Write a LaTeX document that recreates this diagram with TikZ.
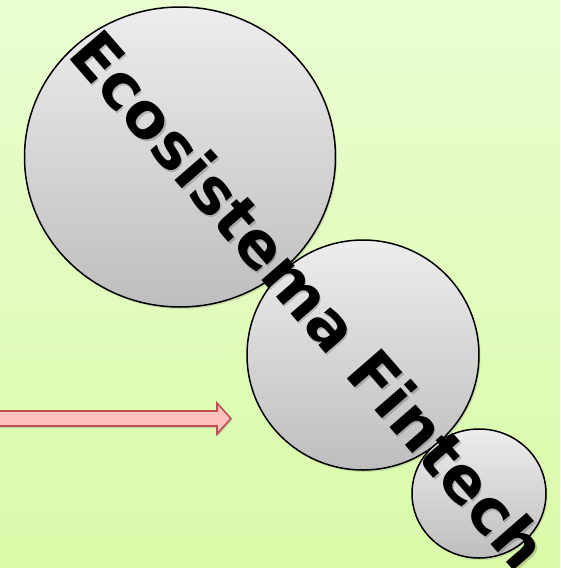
\documentclass[tikz,border=0pt]{standalone}
\usepackage{fontspec}
\setmainfont{DejaVu Sans}
\usetikzlibrary{shadows,shapes.geometric}
\definecolor{bgtop}{RGB}{234,253,210}
\definecolor{bgbot}{RGB}{217,251,168}
\definecolor{ctop}{RGB}{237,237,237}
\definecolor{cbot}{RGB}{190,190,190}
\definecolor{arrfill}{RGB}{255,192,192}
\definecolor{arrline}{RGB}{192,80,77}
\begin{document}
\begin{tikzpicture}[x=1pt,y=-1pt,
  bubble/.style={ellipse, inner sep=0pt, draw=black, line width=1.5pt,
    top color=ctop, bottom color=cbot,
    drop shadow={opacity=0.25, shadow xshift=1.5pt, shadow yshift=-2pt}},
  titletext/.style={anchor=base west, rotate=-49, inner sep=0pt,
    font=\bfseries\fontsize{63}{75}\selectfont},
  bigarrow/.style={fill=arrfill, draw=arrline, line width=1.6pt, line join=miter,
    drop shadow={opacity=0.3, shadow xshift=1pt, shadow yshift=-2pt}}]
\useasboundingbox (0,0) rectangle (560,568);
\clip (0,0) rectangle (560,568);
\shade[top color=bgtop, bottom color=bgbot] (0,0) rectangle (560,568);
% arrow
\draw[bigarrow] (-5,411) -- (217,411) -- (217,403) -- (231,418.5) -- (217,434) -- (217,426) -- (-5,426) -- cycle;
% bubbles
\node[bubble, minimum width=311pt, minimum height=300pt] (c1) at (180,157) {};
\node[bubble, minimum width=232pt, minimum height=230pt] (c2) at (363,355) {};
\node[bubble, minimum width=134pt, minimum height=129pt] (c3) at (479,493.5) {};
% title
\node[titletext, text=black, opacity=0.18] (titleshadow) at (67.5,57) {Ecosistema Fintech};
\node[titletext, text=black] (title) at (66,55) {Ecosistema Fintech};
\end{tikzpicture}
\end{document}
